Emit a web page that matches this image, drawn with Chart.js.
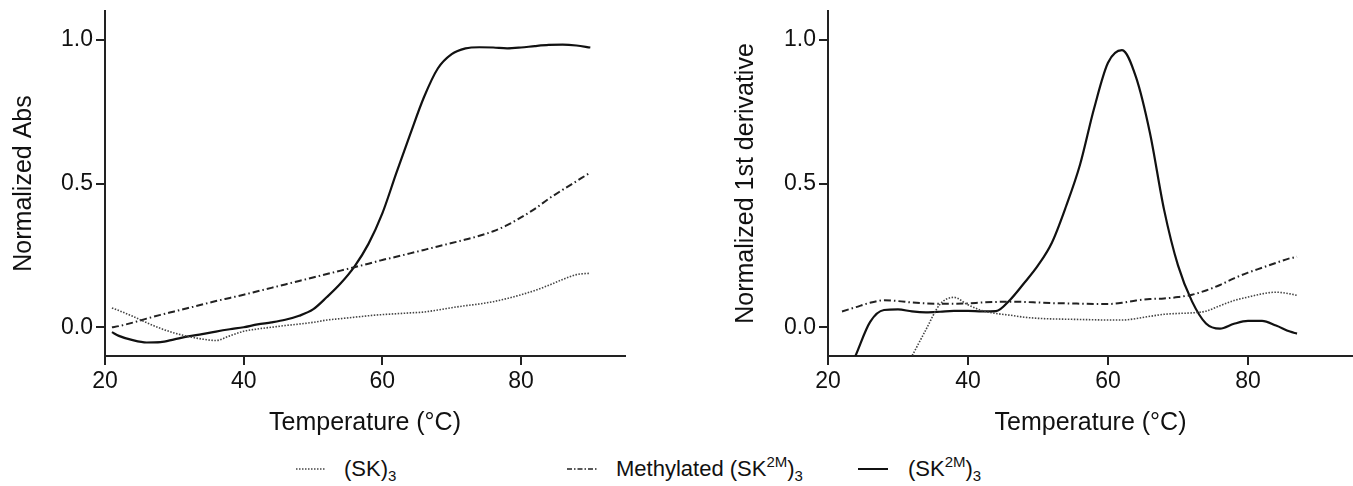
<!DOCTYPE html>
<html>
<head>
<meta charset="utf-8">
<script src="https://cdn.jsdelivr.net/npm/chart.js@4.4.1/dist/chart.umd.min.js"></script>
<style>
  body { margin: 0; width: 1353px; height: 486px; background: #fff; position: relative; overflow: hidden;
         font-family: "Liberation Sans", Arial, Helvetica, sans-serif; color: #111; }
  canvas { position: absolute; top: 0; }
  #absChart { left: 0; }
  #derivChart { left: 722px; }
  .leg-line { position: absolute; top: 465px; }
  .leg-text { position: absolute; top: 456px; font-size: 22px; line-height: 26px; white-space: nowrap; }
  .leg-text sub { font-size: 15px; vertical-align: -5px; line-height: 0; }
  .leg-text sup { font-size: 15px; vertical-align: 9px; line-height: 0; }
</style>
</head>
<body>
<canvas id="absChart" width="660" height="440"></canvas>
<canvas id="derivChart" width="631" height="440"></canvas>

<svg class="leg-line" style="left:296px" width="30" height="8"><line x1="0" y1="4" x2="30" y2="4" stroke="#444" stroke-width="1.5" stroke-dasharray="1.5,1.5"/></svg>
<div class="leg-text" style="left:344px">(SK)<sub>3</sub></div>
<svg class="leg-line" style="left:567px" width="30" height="8"><line x1="0" y1="4" x2="30" y2="4" stroke="#222" stroke-width="1.5" stroke-dasharray="5,2,1.5,2"/></svg>
<div class="leg-text" style="left:616px">Methylated (SK<sup>2M</sup>)<sub>3</sub></div>
<svg class="leg-line" style="left:858px" width="30" height="8"><line x1="0" y1="4" x2="30" y2="4" stroke="#111" stroke-width="2"/></svg>
<div class="leg-text" style="left:908px">(SK<sup>2M</sup>)<sub>3</sub></div>

<script>
// temperatures (°C) and normalized absorbance
const absTemps = [21, 22, 24, 26, 28, 30, 32, 34, 36, 38, 40, 42, 44, 46, 48, 50, 52, 54,
                  56, 58, 60, 62, 64, 66, 68, 70, 72, 74, 76, 78, 80, 82, 84, 86, 88, 90];
const absSK = [0.067, 0.058, 0.038, 0.016, -0.004, -0.020, -0.032, -0.041, -0.046, -0.030, -0.014, -0.006,
               0.000, 0.006, 0.011, 0.017, 0.025, 0.030, 0.035, 0.040, 0.044, 0.047, 0.050, 0.053,
               0.060, 0.068, 0.075, 0.081, 0.089, 0.100, 0.113, 0.128, 0.146, 0.166, 0.183, 0.188];
const absMethylated = [0.000, 0.004, 0.016, 0.030, 0.043, 0.055, 0.067, 0.079, 0.091, 0.102, 0.113, 0.125,
                       0.137, 0.149, 0.161, 0.173, 0.185, 0.197, 0.209, 0.221, 0.234, 0.245, 0.257, 0.269,
                       0.281, 0.293, 0.305, 0.318, 0.334, 0.355, 0.382, 0.412, 0.447, 0.478, 0.508, 0.538];
const absSK2M = [-0.017, -0.030, -0.045, -0.053, -0.052, -0.042, -0.032, -0.024, -0.015, -0.007, 0.000, 0.010,
                 0.017, 0.026, 0.040, 0.062, 0.105, 0.153, 0.212, 0.290, 0.396, 0.535, 0.670, 0.800,
                 0.900, 0.950, 0.970, 0.974, 0.973, 0.970, 0.973, 0.978, 0.982, 0.983, 0.980, 0.973];

// first derivative
const derivTemps = [22, 24, 26, 28, 30, 32, 34, 36, 38, 40, 42, 44, 46, 48, 50, 52, 54,
                    56, 58, 60, 62, 64, 66, 68, 70, 72, 74, 76, 78, 80, 82, 84, 86, 87];
const derivSK = [null, null, null, null, -0.190, -0.100, -0.008, 0.080, 0.104, 0.078, 0.058, 0.048,
                 0.042, 0.035, 0.031, 0.029, 0.028, 0.027, 0.026, 0.025, 0.025, 0.030, 0.038, 0.045,
                 0.048, 0.050, 0.056, 0.075, 0.093, 0.105, 0.116, 0.122, 0.116, 0.111];
const derivMethylated = [0.055, 0.070, 0.085, 0.094, 0.091, 0.086, 0.083, 0.082, 0.082, 0.083, 0.086, 0.088,
                         0.089, 0.088, 0.086, 0.084, 0.083, 0.082, 0.081, 0.081, 0.085, 0.093, 0.098, 0.100,
                         0.105, 0.113, 0.128, 0.147, 0.170, 0.190, 0.207, 0.224, 0.240, 0.245];
const derivSK2M = [-0.210, -0.095, 0.018, 0.060, 0.062, 0.055, 0.052, 0.054, 0.057, 0.057, 0.055, 0.056,
                   0.095, 0.153, 0.215, 0.295, 0.420, 0.565, 0.760, 0.920, 0.964, 0.870, 0.675, 0.410,
                   0.215, 0.090, 0.013, -0.005, 0.012, 0.022, 0.022, 0.006, -0.015, -0.022];

const xTickValues = [20, 40, 60, 80];
const yTickValues = [0, 0.5, 1.0];
const seriesNames = ['(SK)3', 'Methylated (SK2M)3', '(SK2M)3'];

document.addEventListener('DOMContentLoaded', function() {
    const fontFamily = '"Liberation Sans", Arial, Helvetica, sans-serif';
    const axisColor = '#222';

    function points(temps, values) {
        return temps.map((t, i) => ({ x: t, y: values[i] }));
    }

    function makeDatasets(temps, sk, methylated, sk2m) {
        return [
            { label: seriesNames[0], data: points(temps, sk), borderColor: '#444', borderWidth: 1.6, borderDash: [1.5, 1.5] },
            { label: seriesNames[1], data: points(temps, methylated), borderColor: '#222', borderWidth: 2, borderDash: [7, 3, 1.5, 3] },
            { label: seriesNames[2], data: points(temps, sk2m), borderColor: '#111', borderWidth: 2.2 }
        ].map(ds => Object.assign(ds, { pointRadius: 0, cubicInterpolationMode: 'monotone', fill: false }));
    }

    function makeOptions(yTitle, padRight, yWidth) {
        return {
            responsive: false,
            animation: false,
            layout: { padding: { top: 11, left: 0, right: padRight, bottom: 0 } },
            plugins: { legend: { display: false }, tooltip: { enabled: false } },
            scales: {
                x: {
                    type: 'linear',
                    min: 20,
                    max: 95,
                    afterBuildTicks: scale => { scale.ticks = xTickValues.map(v => ({ value: v })); },
                    afterFit: scale => { scale.height = 84; },
                    border: { display: true, color: axisColor, width: 2 },
                    grid: { display: true, drawOnChartArea: false, drawTicks: true, tickLength: 9, color: axisColor, lineWidth: 2 },
                    ticks: { color: '#111', padding: 3, maxRotation: 0, font: { family: fontFamily, size: 23 } },
                    title: {
                        display: true,
                        text: 'Temperature (°C)',
                        color: '#111',
                        padding: { top: 0, bottom: 2 },
                        font: { family: fontFamily, size: 25 }
                    }
                },
                y: {
                    min: -0.1,
                    max: 1.1,
                    afterBuildTicks: scale => { scale.ticks = yTickValues.map(v => ({ value: v })); },
                    afterFit: scale => {
                        scale.width = yWidth;
                        scale.paddingTop = 0;
                        scale.paddingBottom = 0;
                    },
                    border: { display: true, color: axisColor, width: 2 },
                    grid: { display: true, drawOnChartArea: false, drawTicks: true, tickLength: 9, color: axisColor, lineWidth: 2 },
                    ticks: {
                        color: '#111',
                        padding: 3,
                        font: { family: fontFamily, size: 23 },
                        callback: v => Number(v).toFixed(1)
                    },
                    title: {
                        display: true,
                        text: yTitle,
                        color: '#111',
                        padding: { top: 9, bottom: 0 },
                        font: { family: fontFamily, size: 25 }
                    }
                }
            }
        };
    }

    new Chart(document.getElementById('absChart').getContext('2d'), {
        type: 'line',
        data: { datasets: makeDatasets(absTemps, absSK, absMethylated, absSK2M) },
        options: makeOptions('Normalized Abs', 35, 105)
    });

    new Chart(document.getElementById('derivChart').getContext('2d'), {
        type: 'line',
        data: { datasets: makeDatasets(derivTemps, derivSK, derivMethylated, derivSK2M) },
        options: makeOptions('Normalized 1st derivative', 0, 106)
    });
});
</script>
</body>
</html>
